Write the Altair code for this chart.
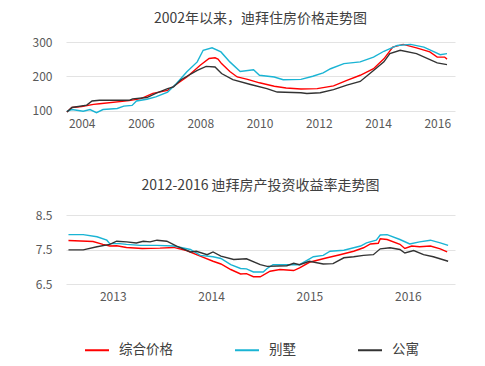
import altair as alt
import pandas as pd

FONT = "Noto Sans CJK SC"
SERIES = ["综合价格", "别墅", "公寓"]
COLORS = ["#FF0000", "#1AB4D4", "#333333"]

# ---- Top chart: house price index since 2002 ----
red_t_x = [2003.5, 2003.67, 2004.0, 2004.4, 2004.6, 2005.6, 2006.0, 2006.4, 2006.9, 2007.1, 2007.55, 2008.0, 2008.3, 2008.5, 2008.6, 2008.72, 2009.0, 2009.25, 2009.6, 2010.0, 2010.5, 2010.9, 2011.4, 2011.95, 2012.5, 2012.95, 2013.4, 2013.85, 2014.2, 2014.5, 2014.85, 2015.3, 2015.75, 2016.0, 2016.25, 2016.33]
red_t_y = [96, 109, 112, 118, 120, 129, 135, 150, 159, 171, 198, 232, 252, 254, 250, 237, 214, 198, 191, 181, 171, 166, 163, 164, 172, 188, 203, 222, 251, 285, 293, 283, 271, 256, 256, 250]

blue_t_x = [2003.5, 2003.67, 2004.05, 2004.28, 2004.5, 2004.72, 2005.2, 2005.42, 2005.7, 2005.85, 2006.2, 2006.5, 2006.9, 2007.2, 2007.55, 2007.9, 2008.1, 2008.4, 2008.7, 2009.0, 2009.35, 2009.8, 2010.0, 2010.5, 2010.8, 2011.4, 2011.8, 2012.15, 2012.4, 2012.85, 2013.4, 2013.85, 2014.2, 2014.65, 2015.1, 2015.55, 2015.9, 2016.1, 2016.33]
blue_t_y = [98, 103, 98, 103, 94, 103, 106, 113, 115, 128, 133, 140, 154, 179, 213, 242, 276, 283, 271, 242, 214, 219, 203, 198, 190, 191, 200, 210, 222, 237, 242, 256, 273, 290, 293, 285, 271, 263, 266]

black_t_x = [2003.5, 2003.67, 2004.17, 2004.35, 2004.6, 2005.6, 2005.72, 2006.2, 2006.5, 2006.9, 2007.1, 2007.35, 2007.9, 2008.2, 2008.5, 2008.72, 2009.1, 2009.7, 2010.25, 2010.6, 2011.4, 2011.6, 2012.05, 2012.5, 2012.95, 2013.4, 2013.85, 2014.2, 2014.4, 2014.75, 2015.3, 2016.0, 2016.33]
black_t_y = [96, 109, 116, 128, 130, 130, 134, 138, 150, 164, 169, 190, 217, 229, 227, 208, 190, 176, 164, 154, 152, 150, 152, 161, 174, 185, 217, 242, 266, 276, 266, 239, 234]

# ---- Bottom chart: rental yield 2012-2016 ----
red_b_x = [2012.55, 2012.8, 2012.9, 2012.97, 2013.04, 2013.14, 2013.3, 2013.48, 2013.62, 2013.75, 2013.89, 2014.02, 2014.1, 2014.2, 2014.3, 2014.36, 2014.43, 2014.5, 2014.6, 2014.7, 2014.84, 2014.9, 2015.0, 2015.18, 2015.3, 2015.45, 2015.55, 2015.62, 2015.7, 2015.72, 2015.79, 2015.92, 2015.97, 2016.04, 2016.12, 2016.23, 2016.33, 2016.4]
red_b_y = [7.76, 7.73, 7.65, 7.60, 7.61, 7.56, 7.53, 7.54, 7.56, 7.47, 7.31, 7.16, 7.08, 6.92, 6.79, 6.80, 6.71, 6.71, 6.87, 6.92, 6.89, 6.97, 7.13, 7.26, 7.34, 7.45, 7.55, 7.66, 7.68, 7.81, 7.79, 7.65, 7.53, 7.60, 7.58, 7.60, 7.52, 7.43]

blue_b_x = [2012.55, 2012.7, 2012.84, 2012.94, 2012.97, 2013.07, 2013.14, 2013.28, 2013.45, 2013.62, 2013.79, 2013.89, 2014.02, 2014.1, 2014.2, 2014.3, 2014.36, 2014.43, 2014.53, 2014.57, 2014.63, 2014.77, 2014.9, 2015.04, 2015.14, 2015.21, 2015.35, 2015.52, 2015.58, 2015.68, 2015.72, 2015.79, 2015.92, 2016.02, 2016.12, 2016.23, 2016.33, 2016.41]
blue_b_y = [7.93, 7.93, 7.87, 7.77, 7.67, 7.67, 7.65, 7.62, 7.62, 7.60, 7.50, 7.33, 7.29, 7.24, 7.06, 6.95, 6.94, 6.85, 6.85, 6.95, 7.06, 7.06, 7.06, 7.29, 7.33, 7.45, 7.48, 7.60, 7.69, 7.77, 7.92, 7.93, 7.79, 7.66, 7.72, 7.77, 7.69, 7.62]

black_b_x = [2012.55, 2012.7, 2012.84, 2012.97, 2013.04, 2013.14, 2013.24, 2013.31, 2013.38, 2013.45, 2013.55, 2013.65, 2013.79, 2013.85, 2013.96, 2014.02, 2014.1, 2014.23, 2014.36, 2014.5, 2014.57, 2014.77, 2014.84, 2014.9, 2015.0, 2015.14, 2015.24, 2015.35, 2015.45, 2015.55, 2015.65, 2015.72, 2015.82, 2015.92, 2015.97, 2016.06, 2016.16, 2016.26, 2016.41]
black_b_y = [7.49, 7.49, 7.58, 7.65, 7.74, 7.72, 7.69, 7.74, 7.72, 7.77, 7.74, 7.60, 7.43, 7.45, 7.35, 7.43, 7.31, 7.21, 7.23, 7.06, 7.01, 7.03, 7.10, 7.06, 7.16, 7.08, 7.09, 7.26, 7.29, 7.33, 7.35, 7.52, 7.55, 7.50, 7.40, 7.47, 7.35, 7.29, 7.16]


def frame(xs_list, ys_list):
    rows = []
    for name, xs, ys in zip(SERIES, xs_list, ys_list):
        for i, (x, y) in enumerate(zip(xs, ys)):
            rows.append({"series": name, "x": x, "y": y, "order": i})
    return pd.DataFrame(rows)


top_df = frame([red_t_x, blue_t_x, black_t_x], [red_t_y, blue_t_y, black_t_y])
bot_df = frame([red_b_x, blue_b_x, black_b_x], [red_b_y, blue_b_y, black_b_y])

color = alt.Color(
    "series:N",
    scale=alt.Scale(domain=SERIES, range=COLORS),
    legend=alt.Legend(
        title=None, orient="none", direction="horizontal",
        legendX=18, legendY=295,
        symbolType="stroke", symbolSize=576, symbolStrokeWidth=2,
        labelFontSize=13.5, labelColor="#404040", labelFont=FONT,
        columnPadding=58, labelOffset=9,
    ),
)

axis_common = dict(
    labelFont=FONT, labelColor="#595959", labelFontSize=12,
    domain=False, ticks=False, title=None,
)

top = alt.Chart(top_df).mark_line(strokeWidth=1.4).encode(
    x=alt.X("x:Q", scale=alt.Scale(domain=[2003.47, 2016.6], nice=False, zero=False),
            axis=alt.Axis(values=[2004, 2006, 2008, 2010, 2012, 2014, 2016], format="d",
                          grid=False, labelPadding=4, **axis_common)),
    y=alt.Y("y:Q", scale=alt.Scale(domain=[90, 300], nice=False, zero=False),
            axis=alt.Axis(values=[100, 200, 300], grid=True, gridColor="#e3e3e3",
                          labelPadding=14, minExtent=40, **axis_common)),
    color=color,
    order="order:Q",
).properties(
    width=389, height=72,
    title=alt.TitleParams("2002年以来，迪拜住房价格走势图", font=FONT, fontSize=14,
                          fontWeight="normal", color="#404040", offset=10),
)

bottom = alt.Chart(bot_df).mark_line(strokeWidth=1.4).encode(
    x=alt.X("x:Q", scale=alt.Scale(domain=[2012.525, 2016.48], nice=False, zero=False),
            axis=alt.Axis(values=[2013, 2014, 2015, 2016], format="d",
                          grid=False, labelPadding=7, **axis_common)),
    y=alt.Y("y:Q", scale=alt.Scale(domain=[6.5, 8.5], nice=False, zero=False),
            axis=alt.Axis(values=[6.5, 7.5, 8.5], format=".1f", grid=True, gridColor="#e3e3e3",
                          labelPadding=14, minExtent=40, **axis_common)),
    color=color,
    order="order:Q",
).properties(
    width=389, height=69,
    title=alt.TitleParams("2012-2016 迪拜房产投资收益率走势图", font=FONT, fontSize=14,
                          fontWeight="normal", color="#404040", offset=16),
)

chart = alt.vconcat(top, bottom, spacing=50).properties(
    padding={"left": 18, "top": 4, "right": 5, "bottom": 5},
).configure_view(stroke=None).configure_title(anchor="middle")

chart.save("out.html", embed_options={"renderer": "svg", "actions": False})
